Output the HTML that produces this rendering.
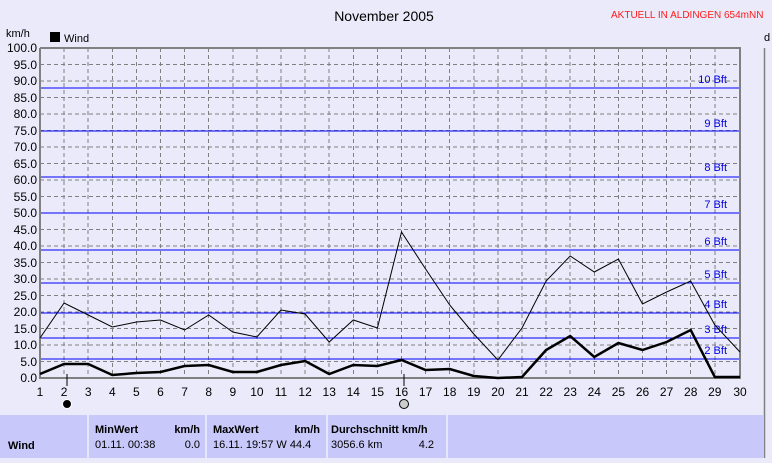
<!DOCTYPE html>
<html><head><meta charset="utf-8"><style>
body{margin:0;background:#eaeafa;width:772px;height:458px;overflow:hidden;font-family:"Liberation Sans",sans-serif}
</style></head><body>
<svg width="772" height="458" xmlns="http://www.w3.org/2000/svg" font-family="Liberation Sans, sans-serif">
<rect width="772" height="458" fill="#eaeafa"/>
<text x="384" y="21" font-size="14" text-anchor="middle">November 2005</text>
<text x="611" y="18" font-size="10" fill="#ff1a1a">AKTUELL IN ALDINGEN 654mNN</text>
<text x="6" y="37" font-size="11">km/h</text>
<rect x="50" y="32" width="10" height="10" fill="#000"/>
<text x="64" y="42" font-size="11">Wind</text>
<text x="764" y="41" font-size="11">d</text>
<g stroke="#808080" stroke-dasharray="4,3" shape-rendering="crispEdges">
<line x1="40" x2="740" y1="64.5" y2="64.5"/><line x1="40" x2="740" y1="81" y2="81"/><line x1="40" x2="740" y1="97.5" y2="97.5"/><line x1="40" x2="740" y1="114" y2="114"/><line x1="40" x2="740" y1="130.5" y2="130.5"/><line x1="40" x2="740" y1="147" y2="147"/><line x1="40" x2="740" y1="163.5" y2="163.5"/><line x1="40" x2="740" y1="180" y2="180"/><line x1="40" x2="740" y1="196.5" y2="196.5"/><line x1="40" x2="740" y1="213" y2="213"/><line x1="40" x2="740" y1="229.5" y2="229.5"/><line x1="40" x2="740" y1="246" y2="246"/><line x1="40" x2="740" y1="262.5" y2="262.5"/><line x1="40" x2="740" y1="279" y2="279"/><line x1="40" x2="740" y1="295.5" y2="295.5"/><line x1="40" x2="740" y1="312" y2="312"/><line x1="40" x2="740" y1="328.5" y2="328.5"/><line x1="40" x2="740" y1="345" y2="345"/><line x1="40" x2="740" y1="361.5" y2="361.5"/>
<line y1="48" y2="378" x1="64.1" x2="64.1"/><line y1="48" y2="378" x1="88.2" x2="88.2"/><line y1="48" y2="378" x1="112.3" x2="112.3"/><line y1="48" y2="378" x1="136.4" x2="136.4"/><line y1="48" y2="378" x1="160.5" x2="160.5"/><line y1="48" y2="378" x1="184.6" x2="184.6"/><line y1="48" y2="378" x1="208.7" x2="208.7"/><line y1="48" y2="378" x1="232.8" x2="232.8"/><line y1="48" y2="378" x1="256.9" x2="256.9"/><line y1="48" y2="378" x1="281" x2="281"/><line y1="48" y2="378" x1="305.1" x2="305.1"/><line y1="48" y2="378" x1="329.2" x2="329.2"/><line y1="48" y2="378" x1="353.3" x2="353.3"/><line y1="48" y2="378" x1="377.4" x2="377.4"/><line y1="48" y2="378" x1="401.5" x2="401.5"/><line y1="48" y2="378" x1="425.6" x2="425.6"/><line y1="48" y2="378" x1="449.7" x2="449.7"/><line y1="48" y2="378" x1="473.8" x2="473.8"/><line y1="48" y2="378" x1="497.9" x2="497.9"/><line y1="48" y2="378" x1="522" x2="522"/><line y1="48" y2="378" x1="546.1" x2="546.1"/><line y1="48" y2="378" x1="570.2" x2="570.2"/><line y1="48" y2="378" x1="594.3" x2="594.3"/><line y1="48" y2="378" x1="618.4" x2="618.4"/><line y1="48" y2="378" x1="642.5" x2="642.5"/><line y1="48" y2="378" x1="666.6" x2="666.6"/><line y1="48" y2="378" x1="690.7" x2="690.7"/><line y1="48" y2="378" x1="714.8" x2="714.8"/>
</g>
<line x1="764.5" x2="764.5" y1="48" y2="458" stroke="#808080" stroke-width="1.5"/>
<g stroke="#0000ff" stroke-width="1" shape-rendering="crispEdges">
<line x1="40" x2="740" y1="88" y2="88"/><line x1="40" x2="740" y1="131" y2="131"/><line x1="40" x2="740" y1="177" y2="177"/><line x1="40" x2="740" y1="213" y2="213"/><line x1="40" x2="740" y1="250" y2="250"/><line x1="40" x2="740" y1="283" y2="283"/><line x1="40" x2="740" y1="313" y2="313"/><line x1="40" x2="740" y1="338" y2="338"/><line x1="40" x2="740" y1="359" y2="359"/>
</g>
<g fill="#0000dd" font-size="11" text-anchor="end">
<text x="727" y="83">10 Bft</text><text x="727" y="127">9 Bft</text><text x="727" y="171">8 Bft</text><text x="727" y="208">7 Bft</text><text x="727" y="245">6 Bft</text><text x="727" y="278">5 Bft</text><text x="727" y="308">4 Bft</text><text x="727" y="333">3 Bft</text><text x="727" y="354">2 Bft</text>
</g>
<path d="M40,48V378H740V48H40" fill="none" stroke="#808080" stroke-width="2"/>
<polyline fill="none" stroke="#000" stroke-width="1" points="40,338 64.1,303 88.2,315 112.3,327 136.4,322 160.5,320 184.6,330 208.7,315 232.8,332 256.9,337 281,310 305.1,314 329.2,342 353.3,320 377.4,328 401.5,232 425.6,269 449.7,305 473.8,334 497.9,360 522,328 546.1,281 570.2,256 594.3,272 618.4,259 642.5,304 666.6,292 690.7,281 714.8,325 740,352"/>
<polyline fill="none" stroke="#000" stroke-width="2.5" points="40,374 64.1,364 88.2,364 112.3,375 136.4,373 160.5,372 184.6,366 208.7,365 232.8,372 256.9,372 281,365 305.1,361 329.2,374 353.3,365 377.4,366 401.5,360 425.6,370 449.7,369 473.8,376 497.9,378 522,377 546.1,350 570.2,336 594.3,357 618.4,343 642.5,350 666.6,342 690.7,330 714.8,377 740,377"/>
<g font-size="12" text-anchor="end">
<text x="37" y="52">100.0</text><text x="37" y="69">95.0</text><text x="37" y="85">90.0</text><text x="37" y="102">85.0</text><text x="37" y="118">80.0</text><text x="37" y="135">75.0</text><text x="37" y="151">70.0</text><text x="37" y="168">65.0</text><text x="37" y="184">60.0</text><text x="37" y="201">55.0</text><text x="37" y="217">50.0</text><text x="37" y="234">45.0</text><text x="37" y="250">40.0</text><text x="37" y="267">35.0</text><text x="37" y="283">30.0</text><text x="37" y="300">25.0</text><text x="37" y="316">20.0</text><text x="37" y="333">15.0</text><text x="37" y="349">10.0</text><text x="37" y="366">5.0</text><text x="37" y="382">0.0</text>
</g>
<g font-size="12" text-anchor="middle">
<text x="40" y="396">1</text><text x="64.1" y="396">2</text><text x="88.2" y="396">3</text><text x="112.3" y="396">4</text><text x="136.4" y="396">5</text><text x="160.5" y="396">6</text><text x="184.6" y="396">7</text><text x="208.7" y="396">8</text><text x="232.8" y="396">9</text><text x="256.9" y="396">10</text><text x="281" y="396">11</text><text x="305.1" y="396">12</text><text x="329.2" y="396">13</text><text x="353.3" y="396">14</text><text x="377.4" y="396">15</text><text x="401.5" y="396">16</text><text x="425.6" y="396">17</text><text x="449.7" y="396">18</text><text x="473.8" y="396">19</text><text x="497.9" y="396">20</text><text x="522" y="396">21</text><text x="546.1" y="396">22</text><text x="570.2" y="396">23</text><text x="594.3" y="396">24</text><text x="618.4" y="396">25</text><text x="642.5" y="396">26</text><text x="666.6" y="396">27</text><text x="690.7" y="396">28</text><text x="714.8" y="396">29</text><text x="740" y="396">30</text>
</g>
<line x1="67" x2="67" y1="374" y2="386" stroke="#000"/>
<line x1="404" x2="404" y1="374" y2="386" stroke="#000"/>
<circle cx="67" cy="404" r="4.5" fill="#000" stroke="#fff"/>
<circle cx="404" cy="404" r="4.5" fill="#ccc" stroke="#000"/>
<rect x="0" y="415" width="764" height="43" fill="#c8c8fa"/>
<g stroke="#f0f0ff" stroke-width="1.5"><line x1="88" x2="88" y1="415" y2="458"/><line x1="206" x2="206" y1="415" y2="458"/><line x1="327" x2="327" y1="415" y2="458"/><line x1="447" x2="447" y1="415" y2="458"/></g>
<g font-size="11">
<text x="8" y="449" font-weight="bold">Wind</text>
<text x="95" y="433" font-weight="bold">MinWert</text><text x="200" y="433" font-weight="bold" text-anchor="end">km/h</text>
<text x="95" y="448">01.11.  00:38</text><text x="200" y="448" text-anchor="end">0.0</text>
<text x="213" y="433" font-weight="bold">MaxWert</text><text x="320" y="433" font-weight="bold" text-anchor="end">km/h</text>
<text x="213" y="448">16.11.  19:57  W 44.4</text>
<text x="331" y="433" font-weight="bold">Durchschnitt km/h</text>
<text x="331" y="448">3056.6 km</text><text x="434" y="448" text-anchor="end">4.2</text>
</g>
</svg>
</body></html>
